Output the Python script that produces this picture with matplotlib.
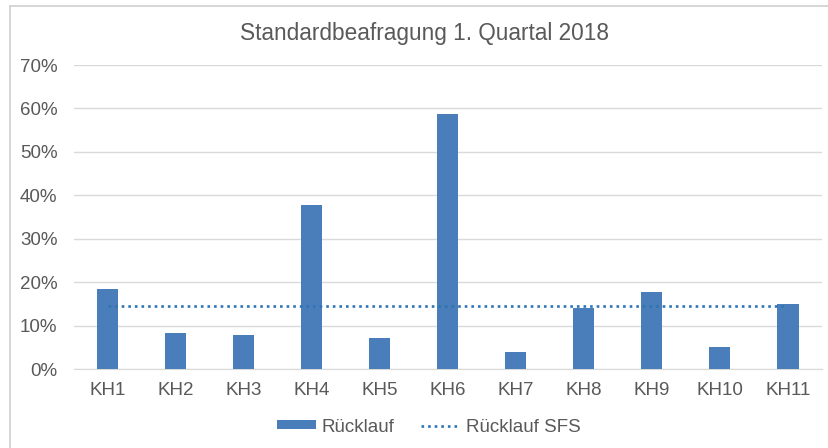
import matplotlib.pyplot as plt
from matplotlib.patches import Patch
from matplotlib.lines import Line2D

plt.rcParams['font.family'] = ['Liberation Sans', 'DejaVu Sans']

# Daten (Rücklauf in %)
categories = ['KH1', 'KH2', 'KH3', 'KH4', 'KH5', 'KH6', 'KH7', 'KH8', 'KH9', 'KH10', 'KH11']
ruecklauf = [18.4, 8.3, 7.8, 37.8, 7.1, 58.8, 3.9, 14.1, 17.7, 5.1, 15.0]
ruecklauf_sfs = [14.5] * len(categories)
y_ticks = [0, 10, 20, 30, 40, 50, 60, 70]

bar_color = '#4a7ebb'
line_color = '#2e75b6'
text_color = '#595959'
grid_color = '#d9d9d9'
dots = (0, (1, 1.5))

fig = plt.figure(figsize=(8.29, 4.48), dpi=100)
ax = fig.add_axes([73.5 / 829, 1 - 369 / 448, 748.5 / 829, 304 / 448])

x = list(range(len(categories)))
ax.bar(x, ruecklauf, width=0.31, color=bar_color, zorder=3, label='Rücklauf')
ax.plot(x, ruecklauf_sfs, linestyle=dots, linewidth=1.9, color=line_color,
        zorder=4, label='Rücklauf SFS')

ax.set_xlim(-0.5, len(categories) - 0.5)
ax.set_ylim(0, 70)
ax.set_yticks(y_ticks)
ax.set_yticklabels([f'{v}%' for v in y_ticks])
ax.set_xticks(x)
ax.set_xticklabels(categories)
ax.tick_params(axis='both', length=0, labelsize=13.5, colors=text_color)
ax.tick_params(axis='x', pad=9)
ax.tick_params(axis='y', pad=11.5)
ax.yaxis.grid(True, color=grid_color, linewidth=1, zorder=0)
for s in ['top', 'right', 'left']:
    ax.spines[s].set_visible(False)
ax.spines['bottom'].set_color(grid_color)

fig.text(425 / 829, 1 - 40 / 448, 'Standardbeafragung 1. Quartal 2018', ha='center', va='baseline',
         fontsize=16.3, color=text_color)

handles = [Patch(facecolor=bar_color, edgecolor='none'),
           Line2D([0], [0], linestyle=dots, linewidth=1.9, color=line_color)]
fig.legend(handles, ['Rücklauf', 'Rücklauf SFS'], loc='center', bbox_to_anchor=(428.5 / 829, 1 - 427 / 448),
           ncol=2, frameon=False, fontsize=13.5, labelcolor=text_color, handlelength=2.1,
           handleheight=0.35, columnspacing=1.4, handletextpad=0.3)

# Rahmen (nur oben und links sichtbar, Rest abgeschnitten)
fig.add_artist(Line2D([10 / 829, 10 / 829], [0, 1 - 6.5 / 448], transform=fig.transFigure,
                      color='#d0d0d0', linewidth=1.2))
fig.add_artist(Line2D([10 / 829, 1], [1 - 6.5 / 448, 1 - 6.5 / 448], transform=fig.transFigure,
                      color='#d0d0d0', linewidth=1.2))

fig.savefig('out.png', dpi=100)
